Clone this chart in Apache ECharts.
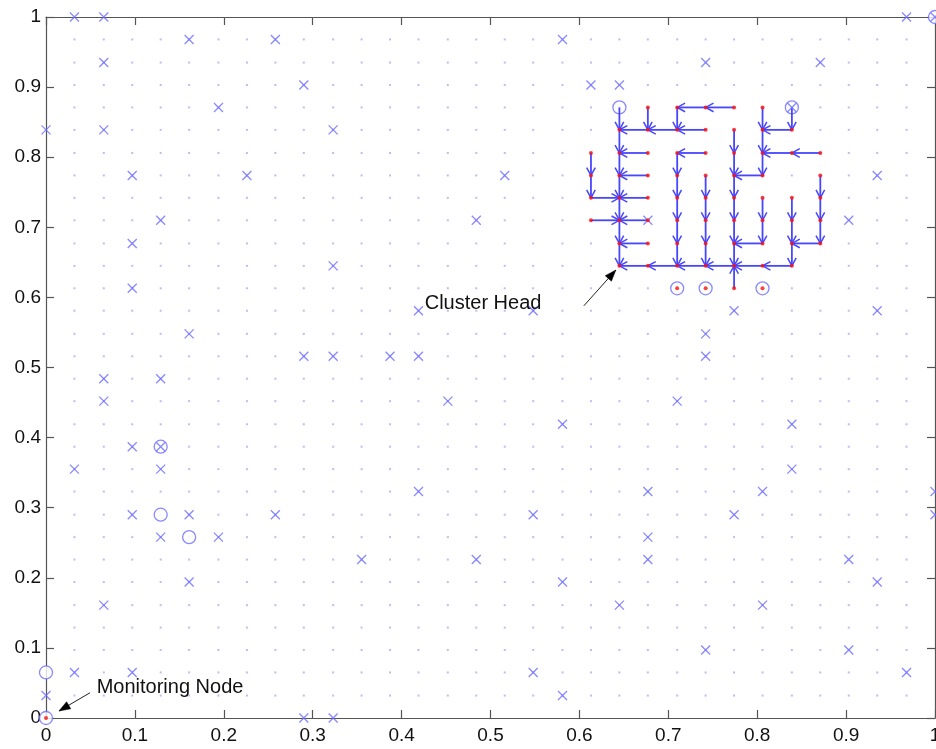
<!DOCTYPE html>
<html>
<head>
<meta charset="utf-8">
<script src="https://cdn.jsdelivr.net/npm/echarts@6/dist/echarts.min.js"></script>
<style>
html,body{margin:0;padding:0;background:#fff;}
#main{width:936px;height:749px;}
</style>
</head>
<body>
<div id="main"></div>
<script>
// grid positions of the deployment field (index -> coordinate)
var pos = [0, 0.032, 0.065, 0.097, 0.129, 0.161, 0.194, 0.226, 0.258, 0.290, 0.323,
	0.355, 0.387, 0.419, 0.452, 0.484, 0.516, 0.548, 0.581, 0.613, 0.645,
	0.677, 0.710, 0.742, 0.774, 0.806, 0.839, 0.871, 0.903, 0.935, 0.968, 1];
// candidate positions drawn as faint dots
var latticeIdx = [1, 2, 3, 4, 5, 6, 7, 8, 9, 10, 11, 12, 13, 14, 15, 16, 17, 18, 19, 20,
	21, 22, 23, 24, 25, 26, 27, 28, 29, 30];

// nodes drawn as x  [col, row]
var crossNodes = [
	[1,31],[2,31],[30,31],[31,31],
	[5,30],[8,30],[18,30],
	[2,29],[23,29],[27,29],
	[9,28],[19,28],[20,28],
	[6,27],[26,27],
	[0,26],[2,26],[10,26],
	[3,24],[7,24],[16,24],[29,24],
	[4,22],[15,22],[28,22],[21,22],
	[3,21],
	[10,20],
	[3,19],
	[13,18],[17,18],[24,18],[29,18],
	[5,17],[23,17],
	[9,16],[10,16],[12,16],[13,16],[23,16],
	[2,15],[4,15],
	[2,14],[14,14],[22,14],
	[18,13],[26,13],
	[3,12],[4,12],
	[1,11],[4,11],[26,11],
	[13,10],[21,10],[25,10],[31,10],
	[3,9],[5,9],[8,9],[17,9],[24,9],[31,9],
	[4,8],[6,8],[21,8],
	[11,7],[15,7],[21,7],[28,7],
	[5,6],[18,6],[29,6],
	[2,5],[20,5],[25,5],
	[23,3],[28,3],
	[1,2],[3,2],[17,2],[30,2],
	[0,1],[18,1],
	[9,0],[10,0]
];
// nodes drawn as circles
var ringNodes = [
	[31,31],[20,27],[26,27],[4,12],[4,9],[5,8],[0,2],[0,0],
	[22,19],[23,19],[25,19]
];
// cluster members (red dots)
var redNodes = [
	[21,27],[22,27],[23,27],[24,27],[25,27],
	[20,26],[21,26],[22,26],[23,26],[24,26],[25,26],[26,26],
	[19,25],[20,25],[21,25],[22,25],[23,25],[24,25],[25,25],[26,25],[27,25],
	[19,24],[20,24],[21,24],[22,24],[23,24],[24,24],[25,24],[27,24],
	[19,23],[20,23],[21,23],[22,23],[23,23],[24,23],[25,23],[26,23],[27,23],
	[19,22],[20,22],[21,22],[22,22],[23,22],[24,22],[25,22],[26,22],[27,22],
	[20,21],[21,21],[22,21],[23,21],[24,21],[25,21],[26,21],[27,21],
	[20,20],[21,20],[22,20],[23,20],[24,20],[25,20],[26,20],
	[22,19],[23,19],[24,19],[25,19],
	[0,0]
];
// routing paths inside the cluster (each hop is an arrow)
var routes = [
	[[20,27],[20,26],[20,25],[20,24],[20,23],[20,22],[20,21],[20,20]],
	[[21,27],[21,26]],
	[[24,27],[23,27],[22,27],[22,26]],
	[[23,26],[22,26],[21,26],[20,26]],
	[[25,27],[25,26],[25,25],[25,24],[24,24]],
	[[26,27],[26,26],[25,26]],
	[[24,26],[24,25],[24,24],[24,23],[24,22],[24,21],[24,20]],
	[[24,19],[24,20]],
	[[19,25],[19,24],[19,23],[20,23]],
	[[21,25],[20,25]],
	[[23,25],[22,25],[22,24],[22,23],[22,22],[22,21],[22,20]],
	[[27,25],[26,25],[25,25]],
	[[21,24],[20,24]],
	[[23,24],[23,23],[23,22],[23,21],[23,20]],
	[[27,24],[27,23],[27,22],[27,21],[26,21]],
	[[21,23],[20,23]],
	[[25,23],[25,22],[25,21],[24,21]],
	[[26,23],[26,22],[26,21],[26,20]],
	[[19,22],[20,22]],
	[[21,22],[20,22]],
	[[21,21],[20,21]],
	[[26,20],[25,20],[24,20],[23,20],[22,20],[21,20],[20,20]]
];
var annotLabels = ['Cluster Head', 'Monitoring Node'];
var annotTextAt = [[0.426, 0.592], [0.057, 0.044]];
var annotArrows = [[0.605, 0.588, 0.641, 0.639], [0.0495, 0.036, 0.0146, 0.010]];

var FONT = '"Liberation Sans", Arial, Helvetica, sans-serif';
var BLUE = '#6b6bff';

function toXY(list) {
	return list.map(function (p) { return [pos[p[0]], pos[p[1]]]; });
}
var lattice = [];
latticeIdx.forEach(function (i) {
	latticeIdx.forEach(function (j) { lattice.push([pos[i], pos[j]]); });
});
var hops = [];
routes.forEach(function (r) {
	for (var k = 1; k < r.length; k++) {
		hops.push([pos[r[k-1][0]], pos[r[k-1][1]], pos[r[k][0]], pos[r[k][1]]]);
	}
});

function renderHop(params, api) {
	var p1 = api.coord([api.value(0), api.value(1)]);
	var p2 = api.coord([api.value(2), api.value(3)]);
	var ang = Math.atan2(p2[1] - p1[1], p2[0] - p1[0]);
	var L = 9, a = 0.5;
	var w1 = [p2[0] - L * Math.cos(ang - a), p2[1] - L * Math.sin(ang - a)];
	var w2 = [p2[0] - L * Math.cos(ang + a), p2[1] - L * Math.sin(ang + a)];
	return {
		type: 'group',
		children: [
			{type: 'line', shape: {x1: p1[0], y1: p1[1], x2: p2[0], y2: p2[1]},
				style: {stroke: '#4646ff', lineWidth: 1.8}},
			{type: 'polyline', shape: {points: [w1, p2, w2]},
				style: {stroke: '#4646ff', lineWidth: 1.5, fill: 'none'}}
		]
	};
}

function renderPointer(params, api) {
	var p1 = api.coord([api.value(0), api.value(1)]);
	var p2 = api.coord([api.value(2), api.value(3)]);
	var ang = Math.atan2(p2[1] - p1[1], p2[0] - p1[0]);
	var L = 12, a = 0.35;
	var w1 = [p2[0] - L * Math.cos(ang - a), p2[1] - L * Math.sin(ang - a)];
	var w2 = [p2[0] - L * Math.cos(ang + a), p2[1] - L * Math.sin(ang + a)];
	return {
		type: 'group',
		children: [
			{type: 'line', shape: {x1: p1[0], y1: p1[1], x2: p2[0], y2: p2[1]},
				style: {stroke: '#222', lineWidth: 1}},
			{type: 'polygon', shape: {points: [w1, p2, w2]},
				style: {fill: '#000', stroke: '#000', lineWidth: 0.5}}
		]
	};
}

function renderLabel(params, api) {
	var p = api.coord([api.value(0), api.value(1)]);
	return {
		type: 'text', x: p[0], y: p[1],
		style: {text: annotLabels[params.dataIndex], fill: '#111', fontSize: 20,
			fontFamily: FONT, align: 'left', verticalAlign: 'middle'}
	};
}

var axisCommon = {
	type: 'value', min: 0, max: 1, interval: 0.1,
	axisLine: {onZero: false, lineStyle: {color: '#555', width: 1.2}},
	axisTick: {inside: true, length: 8, lineStyle: {color: '#555', width: 1.2}},
	splitLine: {show: false}
};

var myChart = echarts.init(document.getElementById('main'));
var option = {
	animation: false,
	grid: {left: 46, right: 1, top: 17, bottom: 31, outerBoundsMode: 'none', containLabel: false},
	xAxis: [
		Object.assign({}, axisCommon, {position: 'bottom',
			axisLabel: {color: '#111', fontSize: 19, fontFamily: FONT, margin: 8}}),
		Object.assign({}, axisCommon, {position: 'top', axisLabel: {show: false}})
	],
	yAxis: [
		Object.assign({}, axisCommon, {position: 'left',
			axisLabel: {color: '#111', fontSize: 19, fontFamily: FONT, margin: 5}}),
		Object.assign({}, axisCommon, {position: 'right', axisLabel: {show: false}})
	],
	series: [
		{
			name: 'lattice', type: 'scatter', data: lattice, symbol: 'rect', symbolSize: 2,
			itemStyle: {color: '#a9adf7'}, silent: true, z: 1
		},
		{
			name: 'rings', type: 'scatter', data: toXY(ringNodes), symbol: 'circle', symbolSize: 13,
			itemStyle: {color: '#ffffff', borderColor: BLUE, borderWidth: 1.3},
			silent: true, z: 2
		},
		{
			name: 'routes', type: 'custom', data: hops, renderItem: renderHop,
			encode: {x: [0, 2], y: [1, 3]}, silent: true, z: 3
		},
		{
			name: 'nodes', type: 'scatter', data: toXY(crossNodes),
			symbol: 'path://M0,0L10,10M10,0L0,10', symbolSize: 9,
			itemStyle: {color: 'none', borderColor: BLUE, borderWidth: 1.3},
			silent: true, z: 4
		},
		{
			name: 'members', type: 'scatter', data: toXY(redNodes), symbol: 'circle', symbolSize: 4,
			itemStyle: {color: '#ff1010'}, silent: true, z: 5
		},
		{
			name: 'pointers', type: 'custom', data: annotArrows, renderItem: renderPointer,
			encode: {x: [0, 2], y: [1, 3]}, silent: true, z: 6
		},
		{
			name: 'labels', type: 'custom', data: annotTextAt, renderItem: renderLabel,
			encode: {x: 0, y: 1}, silent: true, z: 6
		}
	]
};
myChart.setOption(option);
</script>
</body>
</html>
